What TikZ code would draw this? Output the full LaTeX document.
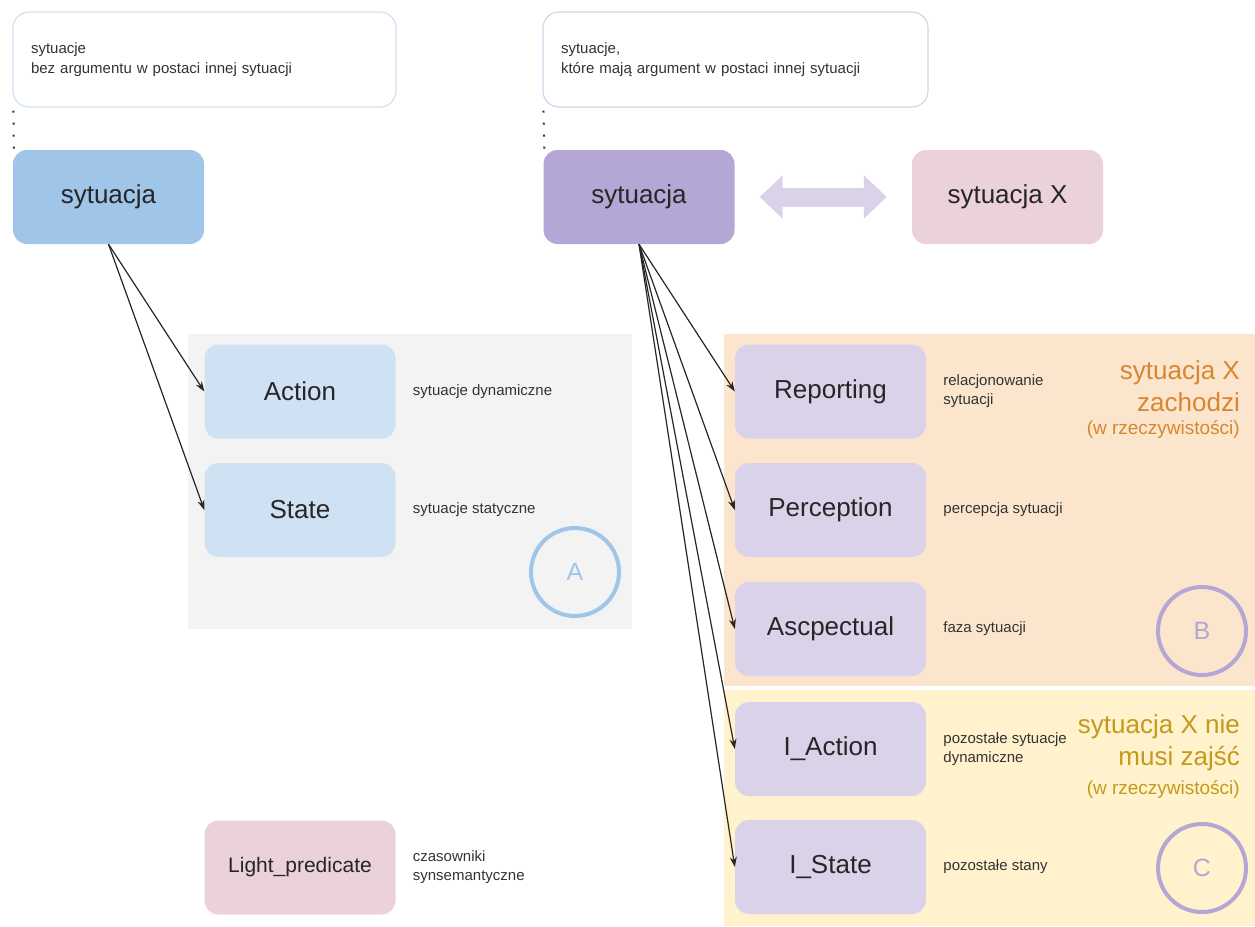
\documentclass[tikz,border=0pt]{standalone}
\usepackage{fontspec}
\setmainfont{Liberation Sans}
\usetikzlibrary{arrows.meta,positioning}

\definecolor{blueL}{HTML}{CFE2F3}
\definecolor{blueM}{HTML}{9FC5E8}
\definecolor{violetL}{HTML}{D9D2E9}
\definecolor{violetM}{HTML}{B4A7D6}
\definecolor{pinkL}{HTML}{EAD1DC}
\definecolor{grayL}{HTML}{F3F3F3}
\definecolor{orangeL}{HTML}{FCE5CD}
\definecolor{yellowL}{HTML}{FFF2CC}
\definecolor{orangeT}{HTML}{D8862F}
\definecolor{yellowT}{HTML}{C49A1C}

\begin{document}
\begin{tikzpicture}[x=1pt, y=-1pt,
    box/.style={rounded corners=14pt, minimum width=191pt, minimum height=94pt,
      inner sep=0pt, text=black!85, font=\fontsize{26}{30}\selectfont},
    descbox/.style={draw, line width=1.2pt, rounded corners=16pt, fill=white,
      minimum height=95pt, inner xsep=18pt, align=left, text=black!80,
      font=\fontsize{15}{20}\selectfont},
    note/.style={align=left, inner sep=0pt, text=black!80, font=\fontsize{15}{19}\selectfont},
    head/.style={anchor=east, align=right, inner sep=0pt, font=\fontsize{26}{32}\selectfont},
    subhead/.style={anchor=east, inner sep=0pt, font=\fontsize{19}{23}\selectfont},
    badge/.style={circle, line width=4pt, minimum size=88pt, inner sep=0pt,
      font=\fontsize{25}{30}\selectfont},
    link/.style={-{Stealth[length=10pt,width=7pt]}, line width=1.2pt, black!85},
    dots/.style={line width=2pt, dash pattern=on 2pt off 10pt, black!80}
]
\useasboundingbox (0,0) rectangle (1255,926);
% Backgrounds
\fill[grayL] (188,334) rectangle (632,629);
\fill[orangeL] (724,334) rectangle (1255,686);
\fill[yellowL] (724,690) rectangle (1255,926);
% Top descriptions
\node[descbox, draw=blueL, text width=347pt] (descL) at (204.5,59.5)
    {sytuacje\\bez argumentu w postaci innej sytuacji};
\node[descbox, draw=violetL, text width=349pt] (descR) at (735.5,59.5)
    {sytuacje,\\które mają argument w postaci innej sytuacji};
% Main situations
\node[box, fill=blueM] (sitL) at (108.5,197) {sytuacja};
\node[box, fill=violetM] (sitR) at (639,197) {sytuacja};
\node[box, fill=pinkL] (sitX) at (1007.5,197) {sytuacja X};
\draw[dots, shorten <=3pt] ([xshift=1pt]descL.south west) -- ([xshift=1pt]sitL.north west);
\draw[dots, shorten <=3pt] ([xshift=1pt]descR.south west) -- ([xshift=1pt]sitR.north west);
\draw[violetL, line width=19pt, shorten <=25pt, shorten >=25pt,
    {Triangle[length=23pt,width=42pt]}-{Triangle[length=23pt,width=42pt]}] (sitR) -- (sitX);
% Group A
\node[box, fill=blueL] (action) at (300,391.5) {Action};
\node[box, fill=blueL] (state) at (300,510) {State};
\node[note, right=17pt of action] (actionNote) {sytuacje dynamiczne};
\node[note, right=17pt of state] (stateNote) {sytuacje statyczne};
\node[badge, draw=blueM, text=blueM] (circA) at (575,572) {A};
% Group B
\node[box, fill=violetL] (reporting) at (830.5,391.5) {Reporting};
\node[box, fill=violetL] (perception) at (830.5,510) {Perception};
\node[box, fill=violetL] (aspectual) at (830.5,629) {Ascpectual};
\node[note, right=17pt of reporting] (reportingNote) {relacjonowanie\\sytuacji};
\node[note, right=17pt of perception] (perceptionNote) {percepcja sytuacji};
\node[note, right=17pt of aspectual] (aspectualNote) {faza sytuacji};
\node[head, text=orangeT] (realB) at (1240,386) {sytuacja X\\zachodzi};
\node[subhead, text=orangeT] (realBsub) at (1240,429) {(w rzeczywistości)};
\node[badge, draw=violetM, text=violetM] (circB) at (1202,631) {B};
% Group C
\node[box, fill=violetL] (iaction) at (830.5,749) {I\_Action};
\node[box, fill=violetL] (istate) at (830.5,867) {I\_State};
\node[note, right=17pt of iaction] (iactionNote) {pozostałe sytuacje\\dynamiczne};
\node[note, right=17pt of istate] (istateNote) {pozostałe stany};
\node[head, text=yellowT] (realC) at (1240,743) {sytuacja X nie\\musi zajść};
\node[subhead, text=yellowT] (realCsub) at (1240,789) {(w rzeczywistości)};
\node[badge, draw=violetM, text=violetM] (circC) at (1202,868) {C};
% Light predicate
\node[box, fill=pinkL, font=\fontsize{21}{25}\selectfont] (light) at (300,867.5) {Light\_predicate};
\node[note, right=17pt of light] (lightNote) {czasowniki\\synsemantyczne};
% Arrows
\foreach \n in {action,state}
    \draw[link] (sitL.south) -- (\n.west);
\foreach \n in {reporting,perception,aspectual,iaction,istate}
    \draw[link] (sitR.south) -- (\n.west);
\end{tikzpicture}
\end{document}
